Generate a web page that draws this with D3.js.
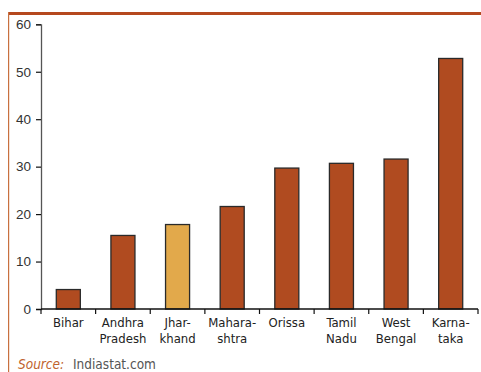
<!DOCTYPE html>
<html><head><meta charset="utf-8">
<script src="https://cdn.jsdelivr.net/npm/d3@7"></script>
<style>
html,body{margin:0;padding:0;background:#fff;}
svg{display:block;font-family:"DejaVu Sans Condensed","Liberation Sans",sans-serif;}
</style></head>
<body>
<svg id="c" width="481" height="372"></svg>
<script>
const categories = [["Bihar"],["Andhra","Pradesh"],["Jhar-","khand"],["Mahara-","shtra"],["Orissa"],["Tamil","Nadu"],["West","Bengal"],["Karna-","taka"]];
const values = [4.1, 15.5, 17.8, 21.6, 29.7, 30.7, 31.6, 52.8];
const highlight = [false, false, true, false, false, false, false, false];
const yTicks = [0, 10, 20, 30, 40, 50, 60];

const svg = d3.select("#c");
const x0 = 41, x1 = 478, yTop = 24.3, yBot = 309;
const keys = categories.map((c,i)=>String(i));
const x = d3.scaleBand().domain(keys).range([x0, x1]).paddingInner(0.56).paddingOuter(0.28);
const y = d3.scaleLinear().domain([0, 60]).range([yBot, yTop]);

// frame lines
svg.append("rect").attr("x", 8).attr("y", 12).attr("width", 473).attr("height", 3).attr("fill", "#B5481E");
svg.append("rect").attr("x", 8).attr("y", 12).attr("width", 1.2).attr("height", 360).attr("fill", "#C8703F");

// bars
svg.selectAll("rect.bar").data(values).enter().append("rect")
  .attr("class","bar")
  .attr("x", (d,i)=>x(String(i)))
  .attr("y", d=>y(d))
  .attr("width", x.bandwidth())
  .attr("height", d=>yBot - y(d))
  .attr("fill", (d,i)=>highlight[i] ? "#E2A94B" : "#B04B20")
  .attr("stroke", "#2a2a2a").attr("stroke-width", 1.3);

// y axis
const ya = svg.append("g").attr("transform", `translate(${x0},0)`)
  .call(d3.axisLeft(y).tickValues(yTicks).tickSize(5).tickPadding(5).tickFormat(d3.format("d")));
ya.select(".domain").attr("stroke", "#555").attr("stroke-width", 1.3);
ya.selectAll(".tick line").attr("stroke", "#111").attr("stroke-width", 1.2);
ya.selectAll("text").attr("font-size", 13.5).attr("fill", "#333")
  .attr("font-family", "'Liberation Sans', sans-serif");

// x axis with boundary ticks
const xa = svg.append("g");
xa.append("line").attr("x1", x0).attr("x2", x1).attr("y1", yBot).attr("y2", yBot).attr("stroke", "#111").attr("stroke-width", 1.3);
const bounds = d3.range(categories.length + 1).map(i => i === categories.length ? x1 : x(String(i)) - x.step()*x.paddingInner()/2);
xa.selectAll("line.tk").data(bounds).enter().append("line").attr("class","tk")
  .attr("x1", d=>d).attr("x2", d=>d).attr("y1", yBot).attr("y2", yBot+5)
  .attr("stroke", "#111").attr("stroke-width", 1.2);

const lab = svg.append("g").selectAll("text").data(categories).enter().append("text")
  .attr("text-anchor", "middle").attr("font-size", 13).attr("fill", "#222")
  .attr("x", (d,i)=>x(String(i)) + x.bandwidth()/2);
lab.each(function(lines){
  const t = d3.select(this);
  lines.forEach((l,j)=>{
    t.append("tspan").attr("x", t.attr("x")).attr("y", 327 + j*16).text(l);
  });
});

// source
const src = svg.append("text").attr("x", 18).attr("y", 369).attr("font-size", 13.5);
src.append("tspan").attr("font-style", "italic").attr("fill", "#C0622E").text("Source:");
src.append("tspan").attr("x", 73).attr("fill", "#555").text("Indiastat.com");
</script>
</body></html>
